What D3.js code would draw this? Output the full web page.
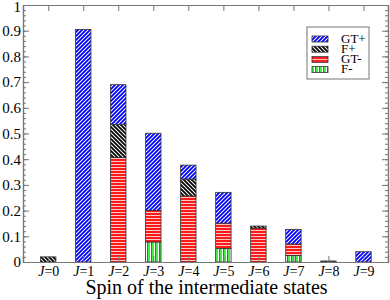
<!DOCTYPE html>
<html><head><meta charset="utf-8">
<script src="https://cdn.jsdelivr.net/npm/d3@7"></script>
<style>body{margin:0;background:#fff}</style>
</head><body>
<svg id="c" width="390" height="300"></svg>
<script>
const spins = [0,1,2,3,4,5,6,7,8,9];
const fMinus  = [0,0,0,0.078,0,0.053,0,0.025,0,0];
const gtMinus = [0,0,0.407,0.123,0.257,0.098,0.132,0.045,0,0];
const fPlus   = [0.02,0,0.128,0,0.066,0,0.008,0,0.004,0];
const gtPlus  = [0,0.905,0.155,0.300,0.054,0.120,0,0.057,0,0.04];
const seriesNames = ["F-","GT-","F+","GT+"];
const legendOrder = ["GT+","F+","GT-","F-"];
const yTicks = [0,0.1,0.2,0.3,0.4,0.5,0.6,0.7,0.8,0.9,1];
const xTitle = "Spin of the intermediate states";

const FONT = "'Liberation Serif', 'Times New Roman', serif";
const svg = d3.select("#c");
const L=23, R=388, T=5, B=262;
const x = d3.scaleLinear().domain([-0.72,9.7]).range([L,R]);
const y = d3.scaleLinear().domain([0,1]).range([B,T]);

const defs = svg.append("defs");
let p = defs.append("pattern").attr("id","pGTp").attr("patternUnits","userSpaceOnUse").attr("width",4).attr("height",4);
p.append("rect").attr("width",4).attr("height",4).attr("fill","#fff");
p.append("path").attr("d","M-1,1 l2,-2 M0,4 l4,-4 M3,5 l2,-2").attr("stroke","#0000ff").attr("stroke-width",1.8);
p = defs.append("pattern").attr("id","pFp").attr("patternUnits","userSpaceOnUse").attr("width",4).attr("height",4);
p.append("rect").attr("width",4).attr("height",4).attr("fill","#fff");
p.append("path").attr("d","M-1,3 l2,2 M0,0 l4,4 M3,-1 l2,2").attr("stroke","#000").attr("stroke-width",1.8);
p = defs.append("pattern").attr("id","pGTm").attr("patternUnits","userSpaceOnUse").attr("width",4).attr("height",3);
p.append("rect").attr("width",4).attr("height",3).attr("fill","#ff1a1a");
p.append("rect").attr("y",2).attr("width",4).attr("height",1).attr("fill","#ffc8c8");
p = defs.append("pattern").attr("id","pFm").attr("patternUnits","userSpaceOnUse").attr("width",4).attr("height",4);
p.append("rect").attr("width",4).attr("height",4).attr("fill","#44ee44");
p.append("rect").attr("x",2).attr("width",1).attr("height",4).attr("fill","#ffffff");
p.append("rect").attr("x",3).attr("width",1).attr("height",4).attr("fill","#119911");
const fills = {"GT+":"url(#pGTp)","F+":"url(#pFp)","GT-":"url(#pGTm)","F-":"url(#pFm)"};

const rows = spins.map((j,i)=>({J:j,"F-":fMinus[i],"GT-":gtMinus[i],"F+":fPlus[i],"GT+":gtPlus[i]}));
const stack = d3.stack().keys(seriesNames)(rows);
const bw = x(0.22)-x(0);
svg.append("g").selectAll("g").data(stack).join("g")
  .attr("fill",d=>fills[d.key])
  .selectAll("rect").data(d=>d.filter(s=>s[1]-s[0]>0)).join("rect")
  .attr("x",d=>x(d.data.J)-bw).attr("width",2*bw)
  .attr("y",d=>y(d[1])).attr("height",d=>Math.max(1,y(d[0])-y(d[1])))
  .attr("stroke","#333").attr("stroke-width",0.8);

const axCol="#777";
function style(g){g.selectAll("path,line").attr("stroke",axCol);g.selectAll("text").attr("fill","#000").attr("font-family",FONT).attr("font-size",15);}
const minor = d3.range(0,1.0001,0.02);
svg.append("g").attr("transform",`translate(${L},0)`).call(d3.axisLeft(y).tickValues(minor).tickSize(-3).tickFormat("")).call(style);
svg.append("g").attr("transform",`translate(${R},0)`).call(d3.axisRight(y).tickValues(minor).tickSize(-3).tickFormat("")).call(style);
const ya = svg.append("g").attr("transform",`translate(${L},0)`).call(d3.axisLeft(y).tickValues(yTicks).tickSize(-6).tickPadding(2).tickFormat(d=>d===0?"0":d===1?"1":d3.format(".1f")(d))).call(style);
ya.selectAll(".tick text").filter(d=>d===1).attr("dy","0.45em");
svg.append("g").attr("transform",`translate(${R},0)`).call(d3.axisRight(y).tickValues(yTicks).tickSize(-6).tickFormat("")).call(style);
svg.append("g").attr("transform",`translate(0,${T})`).call(d3.axisTop(x).tickValues(spins).tickSize(-6).tickFormat("")).call(style);
const xb = svg.append("g").attr("transform",`translate(0,${B})`).call(d3.axisBottom(x).tickValues(spins).tickSize(-6).tickPadding(4)).call(style);
xb.selectAll(".tick text").attr("font-size",14).text(null).each(function(d){
  const t=d3.select(this);
  t.append("tspan").attr("font-style","italic").text("J");
  t.append("tspan").text("="+d);
});
svg.selectAll(".domain").attr("stroke",axCol).attr("stroke-width",1.2);

svg.append("text").attr("x",(L+R)/2+1).attr("y",294).attr("text-anchor","middle")
  .attr("font-family",FONT).attr("font-size",20).text(xTitle);

const lg = svg.append("g");
lg.append("rect").attr("x",307).attr("y",27).attr("width",62).attr("height",52).attr("fill","#fff").attr("stroke","#777");
legendOrder.forEach((k,i)=>{
  const yy = 36 + i*10.2;
  lg.append("rect").attr("x",312).attr("y",yy).attr("width",16).attr("height",6).attr("fill",fills[k]).attr("stroke","#333").attr("stroke-width",0.8);
  lg.append("text").attr("x",341).attr("y",yy+6.5).attr("font-family",FONT).attr("font-size",13).text(k);
});
</script>
</body></html>
